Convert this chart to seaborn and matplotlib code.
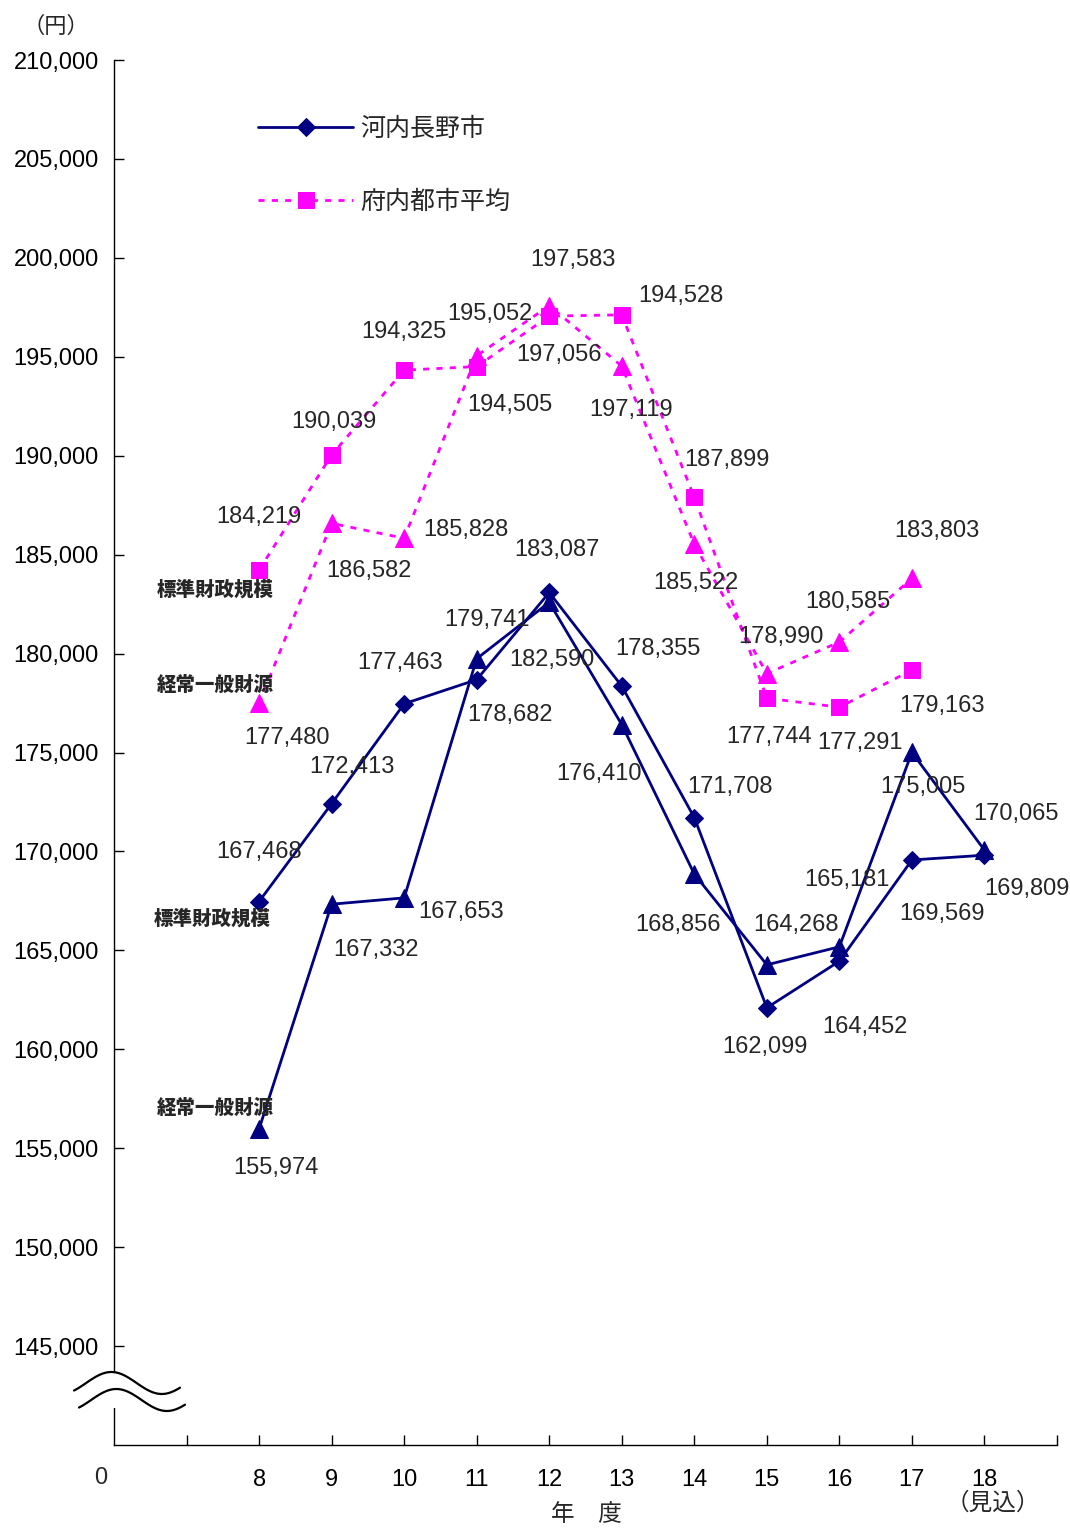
import matplotlib
matplotlib.use("Agg")
import matplotlib.pyplot as plt
from matplotlib.lines import Line2D
from matplotlib.patches import Rectangle
import numpy as np
import pandas as pd
import seaborn as sns

# データ（円）
years = [8, 9, 10, 11, 12, 13, 14, 15, 16, 17, 18]
years_fu = [8, 9, 10, 11, 12, 13, 14, 15, 16, 17]

kawachi_hyojun = [167468, 172413, 177463, 178682, 183087, 178355, 171708, 162099, 164452, 169569, 169809]
kawachi_keijo = [155974, 167332, 167653, 179741, 182590, 176410, 168856, 164268, 165181, 175005, 170065]
fu_hyojun = [184219, 190039, 194325, 194505, 197056, 197119, 187899, 177744, 177291, 179163]
fu_keijo = [177480, 186582, 185828, 195052, 197583, 194528, 185522, 178990, 180585, 183803]

x_ticklabels = ["8", "9", "10", "11", "12", "13", "14", "15", "16", "17", "18"]

# ラベルのずらし量（画像のピクセル、下向き正）
off_kh = [(0, -50), (20, -37), (-4, -41), (33, 35), (8, -42), (36, -37), (36, -31), (-2, 39), (26, 66), (30, 54), (42, 34)]
off_kk = [(17, 39), (44, 46), (57, 14), (10, -39), (3, 58), (-23, 49), (-16, 51), (29, -40), (8, -67), (11, 35), (32, -36)]
off_fh = [(0, -53), (2, -33), (0, -38), (33, 38), (10, 39), (9, 95), (33, -37), (2, 39), (21, 36), (30, 36)]
off_fk = [(28, 35), (37, 48), (62, -8), (13, -42), (24, -46), (59, -70), (2, 39), (14, -37), (8, -40), (25, -47)]

NAVY = "#000080"
MAGENTA = "#FF00FF"
W, H = 1070, 1529

sns.set_style("white")
plt.rcParams["font.family"] = ["Liberation Sans", "Noto Sans CJK JP"]

fig = plt.figure(figsize=(W / 100, H / 100), dpi=100)
ax = fig.add_axes([114 / W, 1 - 1445 / H, (1057 - 114) / W, (1445 - 60) / H])

dotted = (0, (2.2, 2.6))
sns.lineplot(x=years, y=kawachi_hyojun, ax=ax, color=NAVY, lw=2, marker="D", markersize=9,
             markeredgecolor=NAVY, label="河内長野市")
sns.lineplot(x=years, y=kawachi_keijo, ax=ax, color=NAVY, lw=2, marker="^", markersize=12.5,
             markeredgecolor=NAVY)
sns.lineplot(x=years_fu, y=fu_hyojun, ax=ax, color=MAGENTA, lw=2, linestyle=dotted, marker="s",
             markersize=11.5, markeredgecolor=MAGENTA, label="府内都市平均")
sns.lineplot(x=years_fu, y=fu_keijo, ax=ax, color=MAGENTA, lw=2, linestyle=dotted, marker="^",
             markersize=12.5, markeredgecolor=MAGENTA)

# 数値ラベル
for xs, vals, offs in [(years, kawachi_hyojun, off_kh), (years, kawachi_keijo, off_kk),
                       (years_fu, fu_hyojun, off_fh), (years_fu, fu_keijo, off_fk)]:
    for x, v, (dx, dy) in zip(xs, vals, offs):
        ax.annotate(f"{v:,}", (x, v), xytext=(dx, -dy), textcoords="offset pixels",
                    ha="center", va="center", fontsize=17)

# 系列名ラベル
side_labels = [("標準財政規模", 7.39, 183200), ("経常一般財源", 7.39, 178400),
               ("標準財政規模", 7.35, 166600), ("経常一般財源", 7.39, 157000)]
for t, x, y in side_labels:
    ax.text(x, y, t, ha="center", va="center", fontsize=14, fontweight="heavy")

ax.set_xlim(6, 19)
ax.set_ylim(140000, 210000)
ax.set_yticks(np.arange(145000, 210001, 5000))
ax.set_yticklabels([f"{v:,}" for v in range(145000, 210001, 5000)], fontsize=17)
ax.set_xticks(range(7, 20))
ax.set_xticklabels([""] + x_ticklabels + [""], fontsize=17)
ax.tick_params(axis="y", left=True, direction="in", length=7, width=1, pad=11, colors="black")
ax.tick_params(axis="x", bottom=True, direction="in", length=7, width=1, pad=17, colors="black")
for s in ["top", "right"]:
    ax.spines[s].set_visible(False)
for s in ["left", "bottom"]:
    ax.spines[s].set_color("black")
    ax.spines[s].set_linewidth(1)
ax.grid(False)
ax.set_xlabel("")
ax.set_ylabel("")

handles, labels = ax.get_legend_handles_labels()
ax.legend(handles, labels, loc="upper left", bbox_to_anchor=(258 / W, 1 - 117 / H),
          bbox_transform=fig.transFigure, frameon=False, fontsize=18, handlelength=3.8,
          handletextpad=0.3, labelspacing=1.95, borderpad=0, borderaxespad=0)


def fp(px, py):
    return px / W, 1 - py / H


# 軸の省略記号
fig.add_artist(Rectangle(fp(108, 1408), 12 / W, 35 / H, transform=fig.transFigure,
                         facecolor="white", edgecolor="none", zorder=5))
t = np.linspace(0, 1, 60)
for ox, oy in [(0, 0), (5, 17)]:
    xs = 74 + ox + t * 106
    ys = 1383 + oy - 11 * np.sin(2 * np.pi * (t * 1.05 - 0.12))
    xf, yf = fp(xs, ys)
    fig.add_artist(Line2D(xf, yf, transform=fig.transFigure, color="black", lw=1.6, zorder=6))

fig.text(*fp(101, 1478), "0", ha="center", va="center", fontsize=17)
fig.text(*fp(56, 27), "（円）", ha="center", va="center", fontsize=16)
fig.text(*fp(586, 1515), "年　度", ha="center", va="center", fontsize=17)
fig.text(*fp(993, 1503), "（見込）", ha="center", va="center", fontsize=17)

fig.savefig("out.png", dpi=100)
